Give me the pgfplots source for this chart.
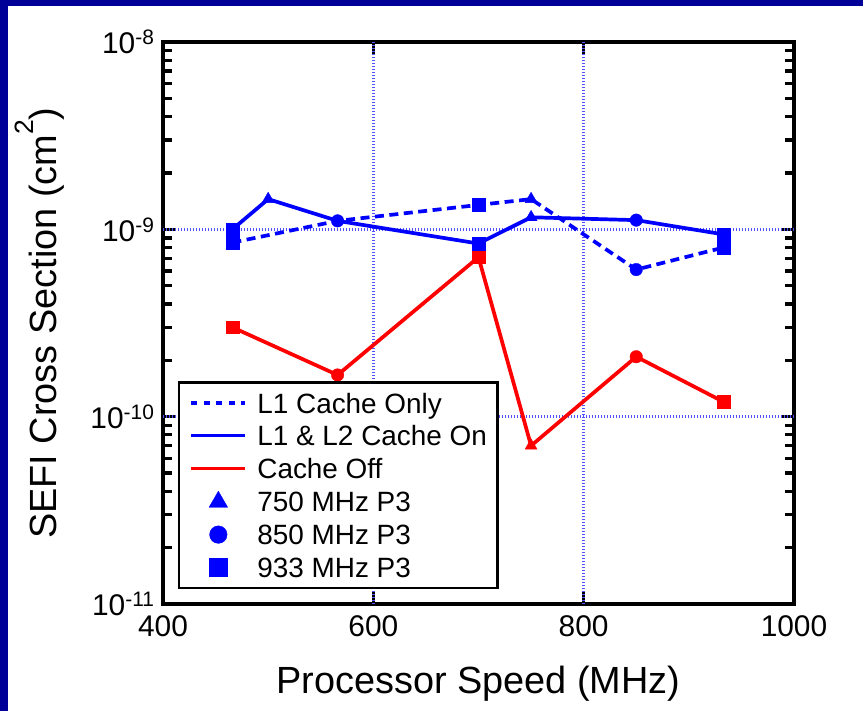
\documentclass[border=0pt]{standalone}
\usepackage{pgfplots}
\pgfplotsset{compat=1.18}
\usepackage{fontspec}
\setmainfont{Liberation Sans}
\definecolor{navyb}{RGB}{0,0,153}
\definecolor{gridb}{RGB}{80,80,255}
\pgfplotsset{
  mylinelegend/.style={legend image code/.code={\draw[##1] (0bp,0bp) -- (54bp,0bp); \path[draw=none,fill=none] (0bp,-9.5bp) rectangle (66bp,9.5bp);}},
  mymarklegend/.style={legend image code/.code={\draw[##1] plot coordinates {(27bp,0bp)}; \path[draw=none,fill=none] (0bp,-9.5bp) rectangle (66bp,9.5bp);}},
}
\begin{document}
\begin{tikzpicture}
\fill[navyb] (-163bp,-107bp) rectangle (700bp,604bp);
\fill[white] (-155bp,-107bp) rectangle (700bp,598bp);
\begin{axis}[
  at={(0,0)}, anchor=south west,
  scale only axis, width=631bp, height=562bp,
  xmin=400, xmax=1000, ymin=1e-11, ymax=1e-8, ymode=log,
  xtick={400,600,800,1000}, xticklabels={400,600,800,1000},
  ytick={1e-11,1e-10,1e-9,1e-8},
  yticklabels={10\textsuperscript{-11},10\textsuperscript{-10},10\textsuperscript{-9},10\textsuperscript{-8}},
  tick align=inside, tick pos=both,
  axis line style={black, line width=4bp},
  tick style={draw=black, line width=3.3bp},
  major tick style={draw=black, line width=3.3bp},
  minor tick style={draw=black, line width=3.3bp},
  major tick length=13bp, minor tick length=9bp,
  tick label style={font=\fontsize{30}{36}\selectfont},
  xticklabel style={yshift=-8bp},
  yticklabel style={xshift=-5bp},
  xlabel={Processor Speed (MHz)},
  ylabel={SEFI Cross Section (cm\raisebox{0.6em}{\fontsize{26.6}{28}\selectfont 2})},
  label style={font=\fontsize{38}{44}\selectfont},
  xlabel style={at={(axis description cs:0.5,-0.159)}, anchor=base},
  ylabel style={at={(axis description cs:-0.1685,0.5)}, anchor=base},
  legend cell align=left,
  legend style={at={(axis description cs:0.0238,0.0267)}, anchor=south west,
    draw=black, line width=2.4bp, fill=white,
    font=\fontsize{28}{30}\selectfont,
    inner xsep=10.5bp, inner ysep=10.5bp, row sep=12.7bp,
    nodes={inner sep=0pt, text height=20bp, text depth=0bp}},
]
% dotted reference (grid) lines
\addplot[gridb, line width=2.4bp, dash pattern=on 1.5bp off 1.5bp, forget plot] coordinates {(400,1e-9) (1000,1e-9)};
\addplot[gridb, line width=2.4bp, dash pattern=on 1.5bp off 1.5bp, forget plot] coordinates {(400,1e-10) (1000,1e-10)};
\addplot[gridb, line width=2.4bp, dash pattern=on 1.5bp off 1.5bp, forget plot] coordinates {(600,1e-11) (600,1e-8)};
\addplot[gridb, line width=2.4bp, dash pattern=on 1.5bp off 1.5bp, forget plot] coordinates {(800,1e-11) (800,1e-8)};
% Cache Off
\addplot[red, line width=3.7bp, forget plot] coordinates {
  (466,3.0e-10) (566,1.67e-10) (700,7.1e-10) (750,7.0e-11) (850,2.09e-10) (933,1.2e-10)};
% L1 & L2 Cache On
\addplot[blue, line width=3.7bp, forget plot] coordinates {
  (466,1.0e-9) (500,1.45e-9) (566,1.11e-9) (700,8.4e-10) (750,1.16e-9) (850,1.12e-9) (933,9.4e-10)};
% L1 Cache Only
\addplot[blue, line width=3.7bp, dash pattern=on 9bp off 5.5bp, forget plot] coordinates {
  (466,8.5e-10) (566,1.11e-9) (700,1.35e-9) (750,1.45e-9) (850,6.1e-10) (933,8.0e-10)};
% markers, Cache Off
\addplot[only marks, mark=square*, mark size=6.3bp, red, mark options={solid, line width=0.3bp}, forget plot] coordinates {(466,3.0e-10) (700,7.1e-10) (933,1.2e-10)};
\addplot[only marks, mark=*, mark size=6.3bp, red, mark options={solid, line width=0.3bp}, forget plot] coordinates {(566,1.67e-10) (850,2.09e-10)};
\addplot[only marks, mark=triangle*, mark size=7bp, red, mark options={solid, line width=0.3bp}, forget plot] coordinates {(750,7.0e-11)};
% markers, blue
\addplot[only marks, mark=square*, mark size=6.3bp, blue, mark options={solid, line width=0.3bp}, forget plot] coordinates {(466,1.0e-9) (466,8.5e-10) (700,1.35e-9) (700,8.4e-10) (933,9.4e-10) (933,8.0e-10)};
\addplot[only marks, mark=*, mark size=6.3bp, blue, mark options={solid, line width=0.3bp}, forget plot] coordinates {(566,1.11e-9) (850,1.12e-9) (850,6.1e-10)};
\addplot[only marks, mark=triangle*, mark size=7bp, blue, mark options={solid, line width=0.3bp}, forget plot] coordinates {(500,1.45e-9) (750,1.45e-9) (750,1.16e-9)};
% legend
\addlegendimage{blue, line width=3.3bp, dash pattern=on 6bp off 6.5bp, mylinelegend}
\addlegendentry{L1 Cache Only}
\addlegendimage{blue, line width=3.3bp, mylinelegend}
\addlegendentry{L1 \& L2 Cache On}
\addlegendimage{red, line width=3.3bp, mylinelegend}
\addlegendentry{Cache Off}
\addlegendimage{blue, mark=triangle*, mark size=10.8bp, mark options={line width=0.3bp}, mymarklegend}
\addlegendentry{750 MHz P3}
\addlegendimage{blue, mark=*, mark size=8.8bp, mark options={line width=0.3bp}, mymarklegend}
\addlegendentry{850 MHz P3}
\addlegendimage{blue, mark=square*, mark size=9.2bp, mark options={line width=0.3bp}, mymarklegend}
\addlegendentry{933 MHz P3}
\end{axis}
\pgfresetboundingbox
\path[use as bounding box] (-163bp,-107bp) rectangle (700bp,604bp);
\end{tikzpicture}
\end{document}
